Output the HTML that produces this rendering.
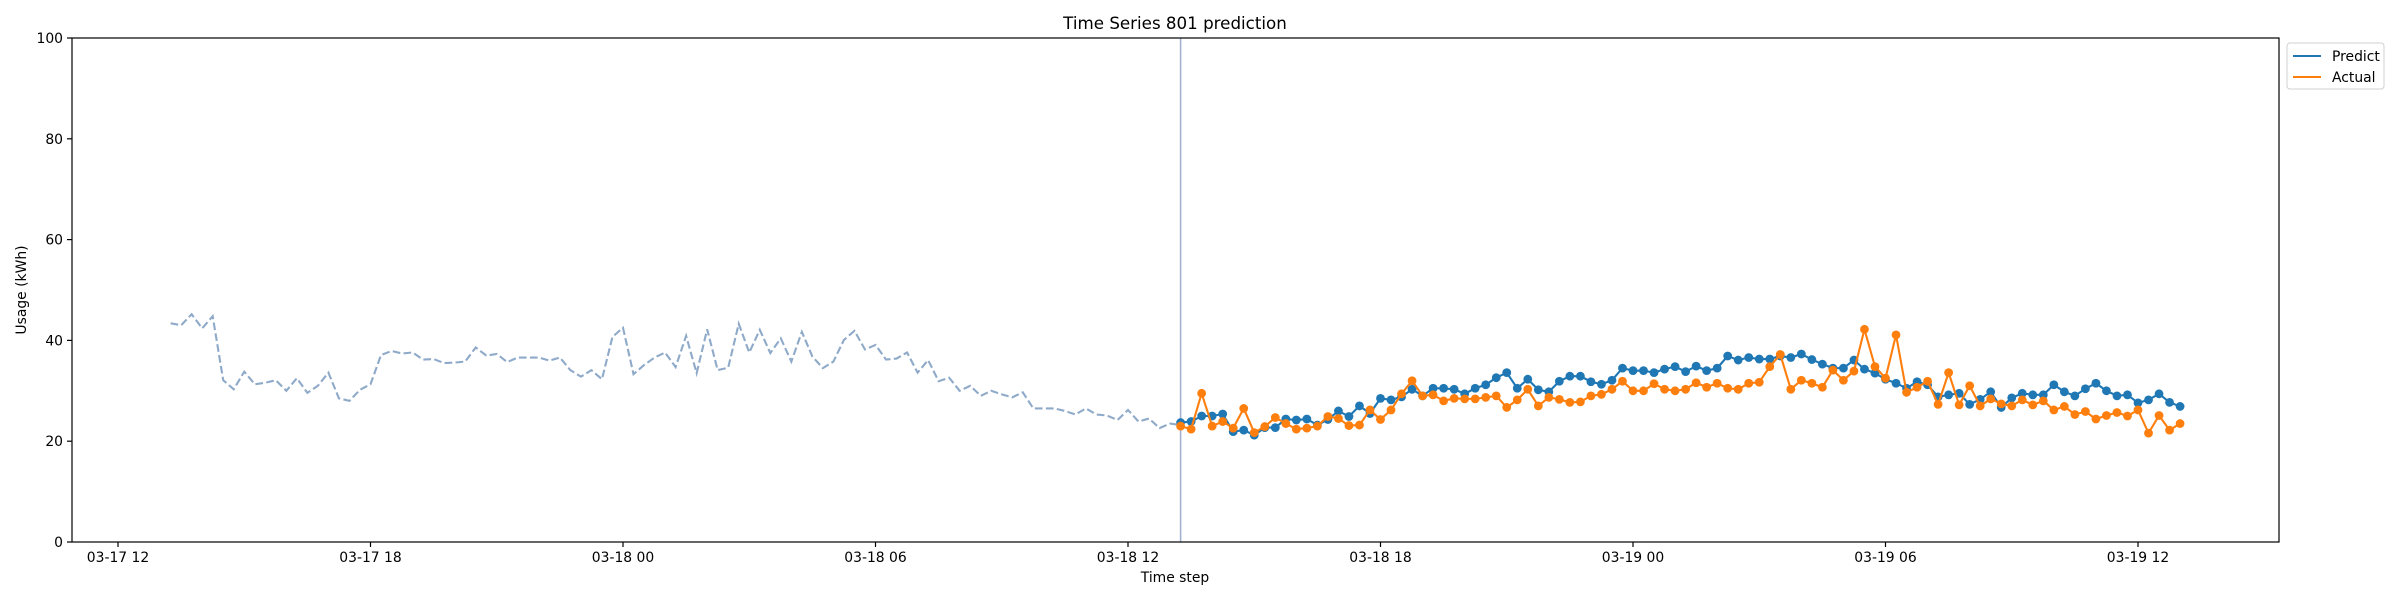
<!DOCTYPE html>
<html><head><meta charset="utf-8">
<style>
html,body{margin:0;padding:0;background:#fff;}
svg{display:block;font-family:"DejaVu Sans","Liberation Sans",sans-serif;}
</style></head>
<body>
<svg id="chart" width="2400" height="600" viewBox="0 0 2400 600" xmlns="http://www.w3.org/2000/svg">
<rect x="0" y="0" width="2400" height="600" fill="#fff"/>
<text x="1175" y="29" text-anchor="middle" font-size="16.7" fill="#000">Time Series 801 prediction</text>
<text x="1175" y="582" text-anchor="middle" font-size="13.9" fill="#000">Time step</text>
<text transform="translate(26,290) rotate(-90)" text-anchor="middle" font-size="13.9" fill="#000">Usage (kWh)</text>
<g id="axes"></g>
<g id="marks"></g>
<rect x="72" y="38" width="2207" height="504" fill="none" stroke="#000" stroke-width="1.2"/>
<g>
<rect x="2287" y="43" width="97" height="46" rx="3" fill="#fff" stroke="#d0d0d0"/>
<line x1="2293" y1="56" x2="2321" y2="56" stroke="#1f77b4" stroke-width="2.1"/>
<text x="2332" y="61" font-size="13.9" fill="#000">Predict</text>
<line x1="2293" y1="77" x2="2321" y2="77" stroke="#ff7f0e" stroke-width="2.1"/>
<text x="2332" y="82" font-size="13.9" fill="#000">Actual</text>
</g>
</svg>
<script>
const historyValues = [43.4,43.0,45.2,42.4,44.8,32.1,30.3,33.8,31.3,31.6,32.1,30.0,32.5,29.6,31.0,33.6,28.5,28.0,30.2,31.3,37.1,37.9,37.4,37.6,36.2,36.3,35.5,35.6,35.8,38.6,37.0,37.3,35.7,
36.6,36.6,36.6,36.0,36.6,34.1,32.8,34.1,32.3,40.7,42.5,33.3,35.1,36.6,37.6,34.7,40.9,33.5,42.2,34.1,34.6,43.3,37.6,42.1,37.5,40.4,35.8,41.7,36.8,34.5,35.8,40.1,
41.9,38.2,39.1,36.2,36.4,37.6,33.6,36.1,31.9,32.6,30.0,31.0,29.0,30.0,29.3,28.7,29.7,26.5,26.5,26.5,26.0,25.3,26.5,25.3,25.1,24.2,26.2,23.9,24.5,22.6,23.5,23.2];
const predictValues = [23.7,23.9,25.0,25.0,25.4,21.9,22.2,21.2,22.7,22.7,24.4,24.2,24.4,23.2,24.3,26.0,24.9,27.0,25.5,28.5,28.2,28.8,30.3,29.0,30.5,30.5,30.3,29.4,30.5,31.2,32.6,33.6,30.5,
32.3,30.2,29.8,31.9,32.9,32.9,31.8,31.3,32.1,34.5,34.0,34.0,33.6,34.3,34.8,33.8,34.9,34.0,34.5,36.9,36.1,36.6,36.3,36.3,36.9,36.6,37.3,36.2,35.3,34.5,34.5,36.1,
34.3,33.5,32.3,31.5,30.5,31.8,31.2,28.8,29.2,29.5,27.3,28.3,29.8,26.7,28.6,29.5,29.2,29.2,31.2,29.8,29.0,30.4,31.5,30.0,29.0,29.2,27.6,28.2,29.4,27.7,26.9];
const actualValues = [23.0,22.4,29.5,23.0,23.9,22.6,26.5,21.7,22.9,24.7,23.5,22.4,22.6,23.0,24.9,24.5,23.1,23.2,26.2,24.3,26.2,29.4,32.0,29.0,29.2,28.0,28.5,28.4,28.4,28.7,29.0,26.7,28.2,
30.3,27.0,28.7,28.3,27.7,27.8,29.0,29.3,30.3,31.9,30.0,30.0,31.4,30.3,30.0,30.3,31.6,30.7,31.5,30.5,30.3,31.5,31.7,34.8,37.2,30.3,32.1,31.5,30.7,34.1,32.1,33.9,
42.2,34.8,32.5,41.1,29.7,30.7,31.9,27.3,33.6,27.2,31.0,27.0,28.4,27.4,27.0,28.2,27.2,28.0,26.2,26.9,25.3,25.9,24.4,25.1,25.7,25.0,26.2,21.6,25.1,22.2,23.5];
const xTickLabels = ["03-17 12","03-17 18","03-18 00","03-18 06","03-18 12","03-18 18","03-19 00","03-19 06","03-19 12"];
const yTickValues = [0,20,40,60,80,100];
const historyStartHour = 13.25;
const predictStartHour = 37.25;
const stepHours = 0.25;

const NS = "http://www.w3.org/2000/svg";
const plotLeft = 72, plotRight = 2279, plotTop = 38, plotBottom = 542;
function xScale(h){ return 118 + (h - 12) * (252.5/6); }
function yScale(v){ return plotBottom - (v/100) * (plotBottom - plotTop); }
function mk(tag, attrs, parent){ const e=document.createElementNS(NS,tag); for(const k in attrs) e.setAttribute(k,attrs[k]); parent.appendChild(e); return e; }

const axes = document.getElementById('axes');
const marks = document.getElementById('marks');

xTickLabels.forEach((lab,i)=>{
  const x = xScale(12 + 6*i);
  const t = mk('line',{x1:x,y1:plotBottom,x2:x,y2:plotBottom+5,stroke:'#000','stroke-width':1.2},axes);
  
  
  const tx = mk('text',{x:x,y:plotBottom+20,'text-anchor':'middle','font-size':13.9,fill:'#000'},axes);
  tx.textContent = lab;
  
  
});
yTickValues.forEach(v=>{
  const y = yScale(v);
  const t = mk('line',{x1:plotLeft-5,y1:y,x2:plotLeft,y2:y,stroke:'#000','stroke-width':1.2},axes);
  
  
  const tx = mk('text',{x:plotLeft-9,y:y+5,'text-anchor':'end','font-size':13.9,fill:'#000'},axes);
  tx.textContent = String(v);
  
  
});

function pts(vals,start){ return vals.map((v,i)=>[xScale(start+i*stepHours), yScale(v)]); }
const hp = pts(historyValues, historyStartHour);
const hl = mk('polyline',{points:hp.map(p=>p.join(',')).join(' '),fill:'none',stroke:'#8faac9','stroke-width':2.1,'stroke-dasharray':'7.7,3.3'},marks);



const vx = xScale(predictStartHour);
const vl = mk('line',{x1:vx,y1:plotTop,x2:vx,y2:plotBottom,stroke:'#a3b1d1','stroke-width':1.6},marks);



function series(vals,color,name){
  const p = pts(vals, predictStartHour);
  const l = mk('polyline',{points:p.map(q=>q.join(',')).join(' '),fill:'none',stroke:color,'stroke-width':2.1},marks);
  
  
  p.forEach(q=>{
    const c = mk('circle',{cx:q[0],cy:q[1],r:4.4,fill:color},marks);
    
    
  });
}
series(predictValues,'#1f77b4','predict');
series(actualValues,'#ff7f0e','actual');
</script>
</body></html>
